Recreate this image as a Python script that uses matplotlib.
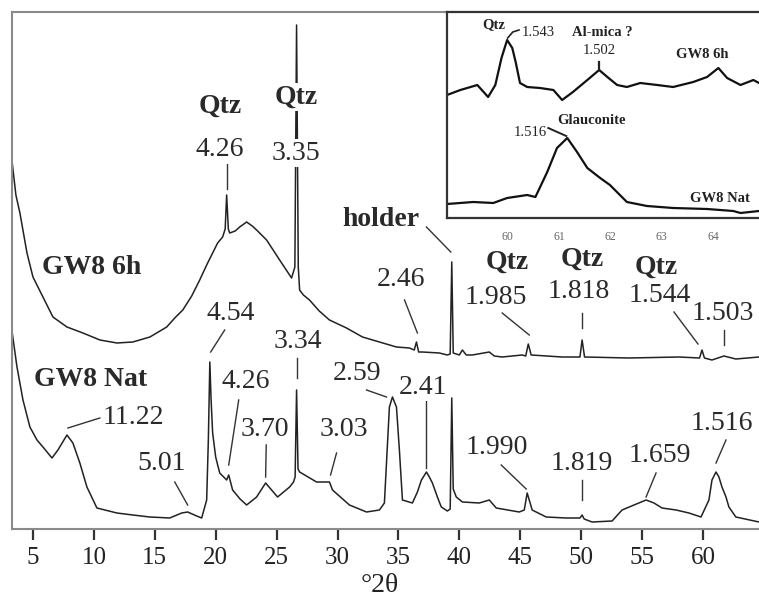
import matplotlib
matplotlib.use("Agg")
import matplotlib.pyplot as plt

plt.rcParams['font.family'] = ['Liberation Serif', 'DejaVu Serif']

# ---------------- data ----------------
# main pattern, GW8 6h : 2theta, intensity (arbitrary units)
tt_6h = [3.3, 3.6, 3.93, 4.51, 5.0, 5.82, 6.64, 7.79, 9.1, 10.5, 11.9, 13.2, 14.6,
         15.98, 16.64, 17.3, 18.03, 18.69, 19.26, 19.75, 20.16, 20.57, 20.78, 20.9,
         21.04, 21.15, 21.6, 21.97, 22.54, 23.0, 23.36, 24.18, 25.25, 26.23,
         26.5, 26.64, 26.78, 26.89, 27.2, 27.7, 28.5, 29.34, 30.74, 32.05, 33.44,
         34.84, 35.9, 36.3, 36.48, 36.66, 36.97, 38.36, 39.02, 39.25, 39.38, 39.5,
         40.0, 40.25, 40.57, 41.07, 42.46, 42.87, 43.52, 45.16, 45.45, 45.66, 45.9,
         48.44, 49.9, 50.08, 50.28, 53.93, 58.03, 59.72, 59.92, 60.12, 60.74, 61.72,
         62.7, 64.6]
int_6h = [366, 334, 316, 276, 252, 232, 212, 202, 196, 189, 186, 187, 192,
          202, 211, 219, 233, 249, 264, 276, 286, 292, 300, 334,
          300, 296, 298, 302, 307, 303, 299, 289, 269, 251,
          262, 504, 262, 239, 234, 229, 218, 209, 201, 192, 187,
          182, 181, 179, 187, 177, 177, 176, 174, 175, 267, 176,
          174, 179, 174, 174, 177, 173, 172, 174, 173, 185, 174,
          172, 172, 189, 172, 171, 172, 171, 179, 171, 169, 173,
          170, 172]

# main pattern, GW8 Nat
tt_nat = [3.3, 3.69, 4.18, 4.75, 5.33, 5.82, 6.56, 7.05, 7.79, 8.28, 8.85, 9.43, 10.25,
          11.89, 13.2, 14.59, 16.23, 17.21, 17.7, 18.44, 18.85, 19.26, 19.4, 19.52,
          19.62, 19.75, 20.0, 20.33, 20.9, 21.07, 21.39, 22.0, 22.54, 23.36, 24.1,
          25.08, 26.07, 26.39, 26.52, 26.64, 26.76, 26.89, 28.28, 29.34, 29.59,
          30.98, 32.38, 33.44, 33.85, 34.26, 34.51, 34.84, 35.08, 35.33, 36.15, 36.56,
          36.89, 37.3, 37.54, 37.79, 38.2, 38.52, 39.02, 39.25, 39.38, 39.5, 39.75,
          40.25, 41.64, 42.46, 43.03, 44.92, 45.33, 45.57, 45.98, 47.13, 48.77, 49.9,
          50.08, 50.25, 50.9, 52.54, 53.36, 54.34, 55.33, 55.98, 56.64, 57.79, 58.85,
          59.84, 60.49, 60.74, 61.07, 61.31, 61.56, 61.89, 62.13, 62.7, 64.6]
int_nat = [196, 162, 129, 102, 89, 82, 71, 79, 94, 86, 66, 42, 21,
           16, 14, 12, 11, 16, 17, 13, 11, 29, 90, 167,
           130, 96, 72, 56, 49, 54, 39, 30, 24, 32, 46,
           32, 42, 47, 52, 139, 60, 57, 47, 47, 39,
           24, 17, 19, 26, 122, 132, 122, 79, 29, 26, 37,
           49, 57, 52, 46, 32, 22, 18, 20, 131, 40, 32,
           27, 26, 29, 21, 17, 19, 36, 19, 12, 11, 11,
           14, 10, 7, 8, 19, 24, 29, 26, 21, 19, 16,
           12, 29, 49, 57, 52, 42, 32, 22, 12, 7]

# inset (58.8-64.9 deg 2theta)
tt_in_6h = [58.82, 59.08, 59.41, 59.62, 59.76, 59.88, 59.99, 60.09, 60.16, 60.24, 60.38,
            60.63, 60.89, 61.06, 61.27, 61.55, 61.78, 61.94, 62.13, 62.32, 62.58, 62.91,
            63.22, 63.61, 63.88, 64.1, 64.27, 64.53, 64.78, 64.89]
int_in_6h = [123, 128, 133, 121, 133, 160, 178, 170, 155, 135, 131,
             130, 128, 118, 126, 138, 148, 141, 133, 131, 135, 133,
             131, 136, 141, 150, 140, 133, 138, 135]
tt_in_nat = [58.82, 59.33, 59.72, 59.99, 60.38, 60.54, 60.77, 60.96, 61.16, 61.35, 61.55,
             61.8, 61.99, 62.32, 62.71, 63.22, 63.88, 64.39, 64.53, 64.89]
int_in_nat = [14, 16, 15, 20, 23, 21, 46, 70, 80, 66, 50,
              40, 33, 16, 12, 10, 9, 7, 5, 7]

main_ticks = [5, 10, 15, 20, 25, 30, 35, 40, 45, 50, 55, 60]
inset_ticks = [60, 61, 62, 63, 64]

# ---------------- figure ----------------
fig = plt.figure(figsize=(7.59, 6.02), dpi=100)
ax = fig.add_axes([12/759, 1-529/602, 1-12/759, (529-12)/602])
ax.plot(tt_6h, int_6h, color='#222222', lw=1.1, zorder=2)
ax.plot(tt_nat, int_nat, color='#222222', lw=1.1, zorder=2)
ax.set_xlim(3.28, 64.6)
ax.set_ylim(0, 517)
ax.set_yticks([])
ax.set_xticks(main_ticks)
ax.set_xticklabels([str(t) for t in main_ticks])
ax.tick_params(axis='x', direction='out', length=8, width=1.6, color='#333333',
               labelsize=18, pad=5, labelcolor='#222222')
for s in ['left', 'bottom', 'top']:
    ax.spines[s].set_color('#8a8a8a')
    ax.spines[s].set_linewidth(1.5)
ax.spines['right'].set_visible(False)
fig.text(380/759, 1-586/602, '°2θ', ha='center', va='center', fontsize=20, color='#222222')

bb = dict(boxstyle='square,pad=0.05', fc='white', ec='none')

def lab(txt, x, y, bold=False, size=20):
    ax.text(x, y, txt, ha='center', va='center', fontsize=size,
            fontweight='bold' if bold else 'normal', color='#2a2a2a', bbox=bb, zorder=4)

def lead(x0, y0, x1, y1):
    ax.plot([x0, x1], [y0, y1], color='#333333', lw=1.0, zorder=3)

# GW8 6h labels
lab('GW8 6h', 9.84, 261, bold=True)
lab('Qtz', 20.41, 423, bold=True)
lab('4.26', 20.33, 379)
lead(20.9, 367, 20.9, 340)
lab('Qtz', 26.64, 432, bold=True)
lab('3.35', 26.56, 376)
lab('holder', 33.6, 309, bold=True)
lead(37.3, 302, 39.3, 277)
lab('2.46', 35.25, 250)
lead(35.5, 229, 36.56, 196)
lab('Qtz', 43.93, 267, bold=True)
lab('1.985', 43.03, 231)
lead(43.52, 216, 45.74, 194)
lab('Qtz', 50.08, 270, bold=True)
lab('1.818', 49.84, 237)
lead(50.08, 216, 50.08, 201)
lab('Qtz', 56.15, 262, bold=True)
lab('1.544', 56.48, 234)
lead(57.62, 217, 59.59, 185)
lab('1.503', 61.64, 216)
lead(61.72, 199, 61.72, 184)

# GW8 Nat labels
lab('GW8 Nat', 9.75, 149, bold=True)
lab('11.22', 13.28, 111)
lead(10.49, 111, 7.87, 101)
lab('5.01', 15.57, 65)
lead(16.64, 47, 17.7, 24)
lab('4.54', 21.23, 215)
lead(20.74, 199, 19.59, 177)
lab('4.26', 22.46, 147)
lead(21.89, 129, 21.07, 64)
lab('3.70', 24.02, 99)
lead(24.15, 84, 24.1, 52)
lab('3.34', 26.72, 187)
lead(26.64, 171, 26.64, 151)
lab('3.03', 30.49, 99)
lead(29.92, 76, 29.43, 54)
lab('2.59', 31.64, 156)
lead(32.38, 139, 34.02, 132)
lab('2.41', 37.05, 142)
lead(37.25, 129, 37.25, 61)
lab('1.990', 43.11, 82)
lead(43.44, 64, 45.49, 40)
lab('1.819', 50.08, 65)
lead(50.08, 49, 50.08, 29)
lab('1.659', 56.48, 74)
lead(56.15, 56, 55.33, 32)
lab('1.516', 61.56, 106)
lead(61.89, 89, 61.07, 66)

# ---------------- inset ----------------
ai = fig.add_axes([447/759, 1-218/602, 1-447/759, (218-12)/602])
ai.set_facecolor('white')
ai.plot(tt_in_6h, int_in_6h, color='#111111', lw=1.6)
ai.plot(tt_in_nat, int_in_nat, color='#111111', lw=1.6)
ai.set_xlim(58.82, 64.89)
ai.set_ylim(0, 206)
ai.set_yticks([])
ai.set_xticks(inset_ticks)
ai.set_xticklabels([str(t) for t in inset_ticks])
ai.tick_params(axis='x', length=0, labelsize=8.5, pad=9, labelcolor='#666666')
for s in ['left', 'bottom', 'top']:
    ai.spines[s].set_color('#333333')
    ai.spines[s].set_linewidth(1.6)
ai.spines['right'].set_visible(False)

def ilab(txt, x, y, bold=False, size=10.5):
    ai.text(x, y, txt, ha='center', va='center', fontsize=size,
            fontweight='bold' if bold else 'normal', color='#222222')

ilab('Qtz', 59.72, 193, bold=True, size=10.5)
ilab('1.543', 60.6, 185)
ai.plot([60.0, 60.1, 60.22], [180, 186, 188], color='#222222', lw=1.2)
ilab('Al-mica ?', 61.84, 185, bold=True)
ilab('1.502', 61.78, 168)
ai.plot([61.78, 61.78], [156, 150], color='#222222', lw=1.6)
ilab('GW8 6h', 63.79, 163, bold=True)
ilab('1.516', 60.44, 86)
ilab('Glauconite', 61.64, 98, bold=True)
ai.plot([60.79, 61.14], [90, 82], color='#222222', lw=1.4)
ilab('GW8 Nat', 64.13, 20, bold=True)

fig.savefig('out.png', dpi=100)
